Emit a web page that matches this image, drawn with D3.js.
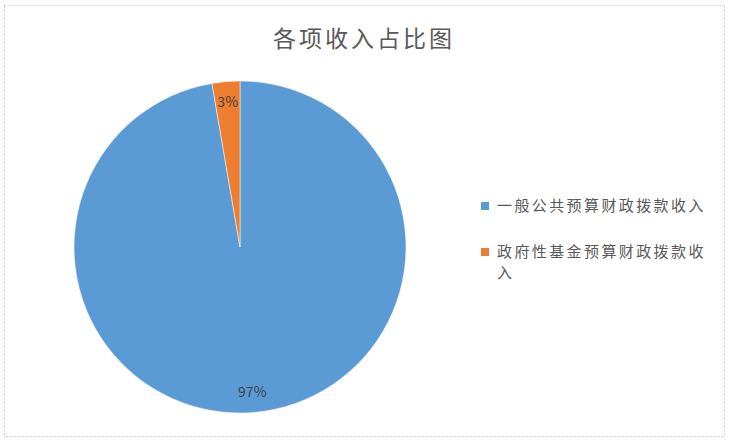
<!DOCTYPE html>
<html>
<head>
<meta charset="utf-8">
<script src="https://cdn.jsdelivr.net/npm/d3@7"></script>
<style>
  html, body { margin: 0; padding: 0; background: #fff; }
  svg { display: block; font-family: 'Noto Sans CJK SC', sans-serif; }
</style>
</head>
<body>
<svg id="chart"></svg>
<script>
const title = '各项收入占比图'
const categories = ['一般公共预算财政拨款收入', '政府性基金预算财政拨款收入']
const values = [97.3, 2.7]
const colors = ['#5B9BD5', '#ED7D31']

const width = 734
const height = 446
const center = { x: 240, y: 247 }
const radius = 166

const svg = d3.select('#chart').attr('width', width).attr('height', height)

// dashed chart border
svg
  .append('rect')
  .attr('x', 4.5)
  .attr('y', 5.5)
  .attr('width', 720)
  .attr('height', 431)
  .attr('fill', 'none')
  .attr('stroke', '#c8c8c8')
  .attr('stroke-dasharray', '2,2')

svg
  .append('text')
  .attr('x', 364)
  .attr('y', 47)
  .attr('text-anchor', 'middle')
  .attr('fill', '#595959')
  .style('font-size', '23px')
  .style('letter-spacing', '3px')
  .text(title)

const data = categories.map((c, i) => ({ name: c, value: values[i] }))
const total = d3.sum(values)
const color = d3.scaleOrdinal().domain(categories).range(colors)

const pie = d3.pie().sort(null).value((d) => d.value)
const arcs = pie(data)
const arc = d3.arc().innerRadius(0).outerRadius(radius)
const labelArc = d3.arc().innerRadius(radius * 0.875).outerRadius(radius * 0.875)

const g = svg.append('g').attr('transform', `translate(${center.x}, ${center.y})`)

g.selectAll('path')
  .data(arcs)
  .join('path')
  .attr('d', arc)
  .attr('fill', (d) => color(d.data.name))
  .attr('stroke', '#fff')
  .attr('stroke-width', 0.5)

g.selectAll('text')
  .data(arcs)
  .join('text')
  .attr('transform', (d) => `translate(${labelArc.centroid(d)})`)
  .attr('text-anchor', 'middle')
  .attr('dy', '0.35em')
  .attr('fill', '#404040')
  .style('font-size', '14px')
  .text((d) => `${Math.round((d.data.value / total) * 100)}%`)

// legend, second label wraps like the original
const legendLines = [[categories[0]], [categories[1].slice(0, 12), categories[1].slice(12)]]
const legendY = [206, 252]

const legend = svg
  .selectAll('.legend')
  .data(categories)
  .join('g')
  .attr('class', 'legend')
  .attr('transform', (d, i) => `translate(481, ${legendY[i]})`)

legend
  .append('rect')
  .attr('x', 0)
  .attr('y', -4)
  .attr('width', 8)
  .attr('height', 8)
  .attr('fill', (d) => color(d))

legend
  .append('text')
  .attr('x', 16)
  .attr('fill', '#595959')
  .style('font-size', '15px')
  .style('letter-spacing', '2.4px')
  .selectAll('tspan')
  .data((d, i) => legendLines[i])
  .join('tspan')
  .attr('x', 16)
  .attr('y', (d, j) => j * 21)
  .attr('dy', '0.35em')
  .text((d) => d)
</script>
</body>
</html>
